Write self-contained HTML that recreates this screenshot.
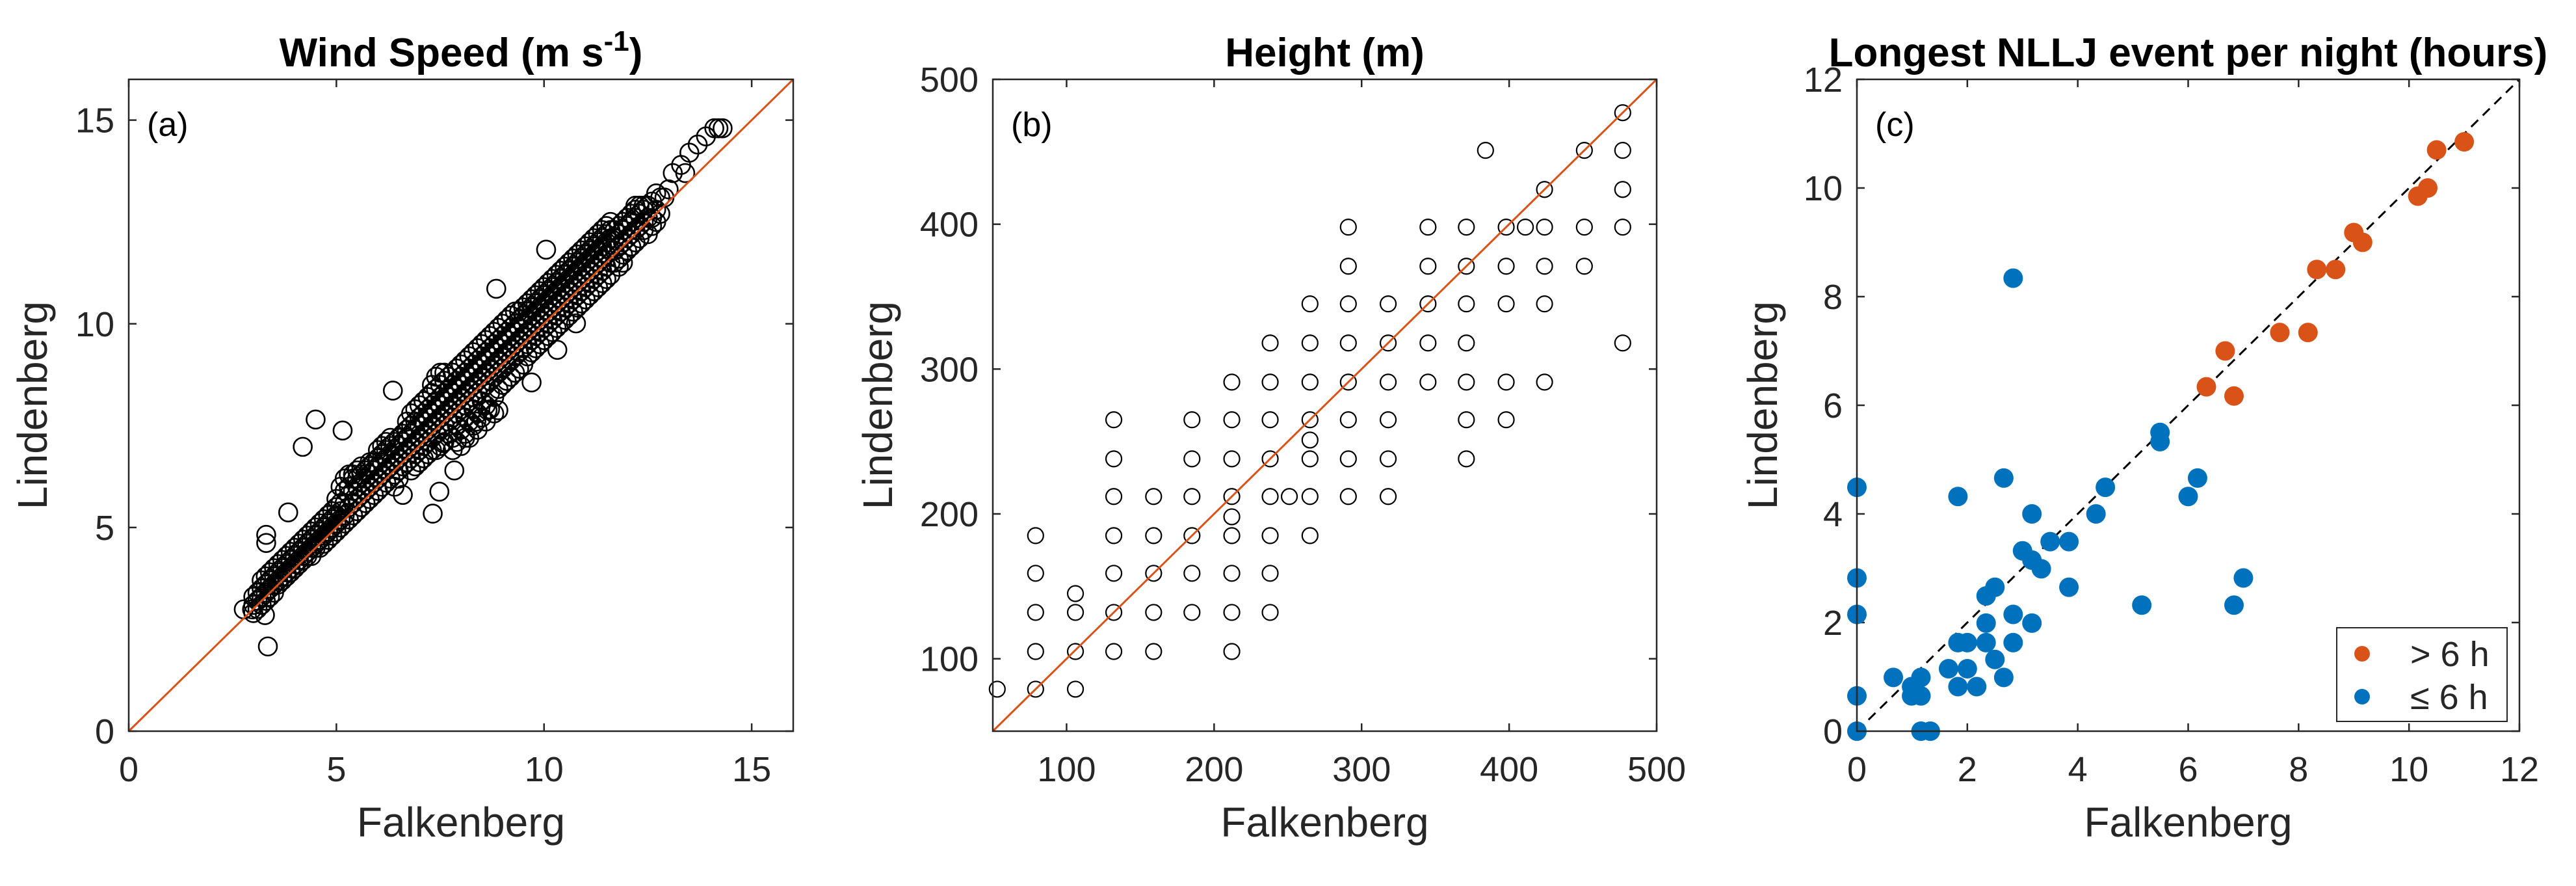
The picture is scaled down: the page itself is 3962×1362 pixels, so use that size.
<!DOCTYPE html>
<html><head><meta charset="utf-8">
<style>
html,body{margin:0;padding:0;background:#fff;}
svg{display:block;font-family:"Liberation Sans",Arial,sans-serif;}
.tick{font-size:54px;fill:#262626;}
.alab{font-size:64px;fill:#262626;}
.ttl{font-size:62px;font-weight:bold;fill:#000;}
.pl{font-size:52px;fill:#000;}
</style></head>
<body>
<svg id="fig" width="3962" height="1362" viewBox="0 0 3962 1362" xmlns="http://www.w3.org/2000/svg">
<g id="root"></g>
</svg>
<script>
// ---- Panel (a) data: wind speed (columns of Falkenberg value -> Lindenberg values)
const windCols = [
[3.0,[3.1,3.3,2.9]],[3.2,[3.3,3.5,3.1,3.7]],[3.4,[3.5,3.7,3.3,3.9]],[3.6,[3.7,3.9,3.6,4.1]],
[3.8,[3.9,4.1,3.8,4.3]],[4.0,[4.1,4.3,4.0,4.5]],[4.2,[4.3,4.5,4.2,4.7]],[4.4,[4.5,4.7,4.3,4.9]],
[4.6,[4.7,4.9,4.5,5.1]],[4.8,[4.9,5.1,4.7,5.3]],[5.0,[5.1,5.3,4.9,5.5,5.7]],[5.2,[5.3,5.6,5.1,5.9,6.2]],
[5.4,[5.6,5.9,5.3,6.2,6.3]],[5.6,[5.8,6.1,5.5,6.3,6.5]],[5.8,[6.0,6.3,5.7,6.5,6.6]],[6.0,[6.2,6.5,5.9,6.7,6.9]],
[6.2,[6.4,6.7,6.1,6.9,7.1]],[6.4,[6.6,6.9,6.3,7.1,6.0]],[6.6,[6.8,7.1,6.5,7.3,5.8]],[6.8,[7.0,7.3,6.7,7.5,7.8,6.4]],
[7.0,[7.2,7.5,6.9,7.7,8.0,6.6]],[7.2,[7.4,7.7,7.1,7.9,8.2,6.8]],[7.4,[7.6,7.9,7.3,8.1,8.4,6.9,8.7]],
[7.6,[7.8,8.1,7.5,8.3,8.6,7.1,8.8]],[7.8,[8.0,8.3,7.7,8.5,8.8,7.2,6.9]],[8.0,[8.2,8.5,7.9,8.7,9.0,7.4,7.0]],
[8.2,[8.4,8.7,8.1,8.9,9.2,7.6,7.2]],[8.4,[8.6,8.9,8.3,9.1,9.4,7.8,7.4]],[8.6,[8.8,9.1,8.5,9.3,9.6,8.0,7.6]],
[8.8,[9.0,9.3,8.7,9.5,9.8,8.2,7.8]],[9.0,[9.2,9.5,8.9,9.7,10.0,8.5]],[9.2,[9.4,9.7,9.1,9.9,10.2,8.7]],
[9.4,[9.6,9.9,9.3,10.1,10.3,8.9]],[9.6,[9.8,10.1,9.5,10.3,10.5,9.2]],[9.8,[10.0,10.3,9.7,10.5,10.7,9.4]],
[10.0,[10.2,10.5,9.9,10.7,10.9,9.6]],[10.2,[10.4,10.7,10.1,10.9,11.1,9.8]],[10.4,[10.6,10.9,10.3,11.1,11.3,10.0]],
[10.6,[10.8,11.1,10.5,11.3,11.5,10.2]],[10.8,[11.0,11.3,10.7,11.5,11.7,10.4]],[11.0,[11.2,11.5,10.9,11.7,11.9,10.6]],
[11.2,[11.4,11.7,11.1,11.9,12.1,10.8]],[11.4,[11.6,11.9,11.3,12.1,12.3,11.0]],[11.6,[11.8,12.1,11.5,12.3,12.5,11.2]],
[11.8,[11.9,12.2,11.6,12.4,11.4]],[12.0,[12.1,12.4,11.8,12.6]],[12.2,[12.3,12.6,12.0,12.8,12.9]],
[12.4,[12.5,12.8,12.3,12.9]],[12.6,[12.6,12.4,13.0]],[12.8,[12.7,13.1]],[13.0,[13.3]]
];
const windCols2 = [
[3.1,[3.2,3.4,3.0]],[3.3,[3.4,3.6,3.2,3.8]],[3.5,[3.6,3.8,3.4,4.0]],[3.7,[3.8,4.0,3.7,4.2]],
[3.9,[4.0,4.2,3.9,4.4]],[4.1,[4.2,4.4,4.1,4.6]],[4.3,[4.4,4.6,4.3,4.8]],[4.5,[4.6,4.8,4.5,5.0]],
[4.7,[4.8,5.0,4.6,5.2]],[4.9,[5.0,5.2,4.8,5.4]],[5.1,[5.2,5.4,5.0,5.6,6.0]],[5.3,[5.5,5.8,5.2,6.0,6.3]],
[5.5,[5.7,6.0,5.4,6.2,6.4]],[5.7,[5.9,6.2,5.6,6.4]],[5.9,[6.1,6.4,5.8,6.6]],[6.1,[6.3,6.6,6.0,6.8,7.0]],
[6.3,[6.5,6.8,6.2,7.0,7.2]],[6.5,[6.7,7.0,6.4,7.2,6.2]],[6.7,[6.9,7.2,6.6,7.4,7.6]],[6.9,[7.1,7.4,6.8,7.6,7.9,6.5]],
[7.1,[7.3,7.6,7.0,7.8,8.1,6.7]],[7.3,[7.5,7.8,7.2,8.0,8.3,6.9,8.5]],[7.5,[7.7,8.0,7.4,8.2,8.5,7.0,8.8]],
[7.7,[7.9,8.2,7.6,8.4,8.7,7.3]],[7.9,[8.1,8.4,7.8,8.6,8.9,7.5,7.1]],[8.1,[8.3,8.6,8.0,8.8,9.1,7.7,7.3]],
[8.3,[8.5,8.8,8.2,9.0,9.3,7.9,7.5]],[8.5,[8.7,9.0,8.4,9.2,9.5,8.1,7.7]],[8.7,[8.9,9.2,8.6,9.4,9.7,8.3,7.9]],
[8.9,[9.1,9.4,8.8,9.6,9.9,8.4]],[9.1,[9.3,9.6,9.0,9.8,10.1,8.6]],[9.3,[9.5,9.8,9.2,10.0,10.3,8.8]],
[9.5,[9.7,10.0,9.4,10.2,10.4,9.0]],[9.7,[9.9,10.2,9.6,10.4,10.6,9.3]],[9.9,[10.1,10.4,9.8,10.6,10.8,9.5]],
[10.1,[10.3,10.6,10.0,10.8,11.0,9.7]],[10.3,[10.5,10.8,10.2,11.0,11.2,9.9]],[10.5,[10.7,11.0,10.4,11.2,11.4,10.1]],
[10.7,[10.9,11.2,10.6,11.4,11.6,10.3]],[10.9,[11.1,11.4,10.8,11.6,11.8,10.5]],[11.1,[11.3,11.6,11.0,11.8,12.0,10.7]],
[11.3,[11.5,11.8,11.2,12.0,12.2,10.9]],[11.5,[11.7,12.0,11.4,12.2,12.4,11.1]],[11.7,[11.8,12.1,11.5,12.3]],
[11.9,[12.0,12.3,11.7,12.5,11.5]],[12.1,[12.2,12.5,11.9,12.7]],[12.3,[12.4,12.7,12.1,12.9]],
[12.5,[12.6,12.9,12.2]],[12.7,[12.8,12.5,13.2]]
];
const windOutliersF = [6.36,4.5,4.19,5.15,3.84,3.35,7.32,7.48,7.84,8.85,10.05,9.7,10.32,10.77,3.31,3.31,2.97,2.77,3.28,14.1,14.2,14.3,13.9,13.7,13.5,13.3,13.1,13.4,12.9,7.57,8.1,8.37,8.64,8.9];
const windOutliersL = [8.36,7.65,6.98,7.38,5.37,2.08,5.34,5.88,6.4,10.86,11.82,8.56,9.36,10.01,4.82,4.62,2.99,2.99,2.85,14.8,14.8,14.8,14.6,14.4,14.2,13.9,13.7,13.7,13.1,7.07,7.2,7.6,7.88,7.88];
const windTicks = [0,5,10,15];

// ---- Panel (b) data: height (columns)
const heightCols = [
[53,[79]],[79,[185,159,132,105,79]],[106,[145,132,105,79]],
[132,[265,238,212,185,159,132,105]],[159,[212,185,159,132,105]],[185,[265,238,212,185,159,132]],
[212,[291,265,238,212,198,185,159,132,105]],[238,[318,291,265,238,212,185,159,132]],[251,[212]],
[265,[345,318,291,265,251,238,212,185]],[291,[398,371,345,318,291,265,238,212]],[318,[345,318,291,265,238,212]],
[345,[398,371,345,318,291]],[371,[398,371,345,318,291,265,238]],[384,[451]],[398,[398,371,345,291,265]],
[411,[398]],[424,[424,398,371,345,291]],[451,[451,398,371]],[477,[477,451,424,398,318]]
];
const heightTicks = [100,200,300,400,500];

// ---- Panel (c) data: longest NLLJ event
const longF = [6.33,6.67,6.83,7.66,8.17,8.33,8.67,9.0,9.16,10.16,10.34,10.5,11.0];
const longL = [6.34,7.0,6.17,7.34,7.34,8.5,8.5,9.18,9.0,9.85,10.0,10.7,10.85];
const shortF = [0,0,0,0,0,0.66,0.99,1.16,1.16,0.99,1.16,1.33,1.66,1.83,1.83,1.83,2.0,2.0,2.17,2.34,2.34,2.34,2.5,2.5,2.66,2.66,2.83,2.83,2.83,3.0,3.17,3.17,3.17,3.34,3.5,3.84,3.84,4.33,4.5,5.16,5.49,5.49,6.0,6.17,6.83,7.0];
const shortL = [4.49,2.82,2.15,0.65,0,0.99,0.82,0.99,0.65,0.65,0,0,1.15,1.63,0.82,4.32,1.63,1.15,0.82,2.49,1.99,1.63,2.65,1.32,4.66,0.99,8.34,2.15,1.63,3.32,3.15,4.0,1.99,2.99,3.49,3.49,2.65,4.0,4.49,2.32,5.5,5.33,4.32,4.66,2.32,2.82];
const nightTicks = [0,2,4,6,8,10,12];

const NS = "http://www.w3.org/2000/svg";
const root = document.getElementById('root');
function mk(tag, attrs, parent){
  const e = document.createElementNS(NS, tag);
  for (const k in attrs) e.setAttribute(k, attrs[k]);
  (parent||root).appendChild(e);
  return e;
}
const TOP = 122, BOT = 1124;
function scale(d0,d1,r0,r1){ return v => r0 + (v-d0)/(d1-d0)*(r1-r0); }

function axes(name, L, R, dmin, dmax, ticks, title, tag, labX){
  const g = mk('g', {});
  
  
  const sx = scale(dmin,dmax,L,R), sy = scale(dmin,dmax,BOT,TOP);
  ticks.forEach(t => {
    const x = sx(t), y = sy(t);
    mk('line',{x1:x,y1:BOT,x2:x,y2:BOT-12,stroke:'#262626','stroke-width':2.5},g);
    mk('line',{x1:x,y1:TOP,x2:x,y2:TOP+12,stroke:'#262626','stroke-width':2.5},g);
    mk('line',{x1:L,y1:y,x2:L+12,y2:y,stroke:'#262626','stroke-width':2.5},g);
    mk('line',{x1:R,y1:y,x2:R-12,y2:y,stroke:'#262626','stroke-width':2.5},g);
    const xt = mk('text',{x:x,y:1201,'text-anchor':'middle',class:'tick'},g);
    xt.textContent = t;
    
    
    const yt = mk('text',{x:L-22,y:y+19,'text-anchor':'end',class:'tick'},g);
    yt.textContent = t;
    
    
  });
  const xl = mk('text',{x:(L+R)/2,y:1286,'text-anchor':'middle',class:'alab'},g);
  xl.textContent = 'Falkenberg';
  
  
  const yl = mk('text',{x:0,y:0,'text-anchor':'middle',class:'alab',transform:`translate(${labX},${(TOP+BOT)/2}) rotate(-90)`},g);
  yl.textContent = 'Lindenberg';
  
  
  const tt = mk('text',{x:(L+R)/2,y:102,'text-anchor':'middle',class:'ttl'},g);
  tt.innerHTML = title;
  
  
  const pl = mk('text',{x:L+28,y:209,class:'pl'},g);
  pl.textContent = tag;
  
  
  return {g, sx, sy, L, R};
}
function box(a){
  const b = mk('rect',{x:a.L,y:TOP,width:a.R-a.L,height:BOT-TOP,fill:'none',stroke:'#262626','stroke-width':2.5},a.g);
  
  
}

// Panel a
const A = axes('wind-speed-panel',198,1220,0,16,windTicks,'Wind Speed (m s<tspan dy="-24" font-size="44">-1</tspan><tspan dy="24">)</tspan>','(a)',72);
const ptsA = mk('g',{fill:'none',stroke:'#000','stroke-width':2.6},A.g);


windCols.concat(windCols2).forEach(c => c[1].forEach(v => {
  const p = mk('circle',{cx:A.sx(c[0]),cy:A.sy(v),r:14},ptsA);
  
  
}));
windOutliersF.forEach((f,i) => {
  const p = mk('circle',{cx:A.sx(f),cy:A.sy(windOutliersL[i]),r:14},ptsA);
  
  
});
const la = mk('line',{x1:A.sx(0),y1:A.sy(0),x2:A.sx(16),y2:A.sy(16),stroke:'#D95319','stroke-width':3},A.g);


box(A);

// Panel b
const B = axes('height-panel',1527,2548,50,500,heightTicks,'Height (m)','(b)',1372);
const ptsB = mk('g',{fill:'none',stroke:'#000','stroke-width':2.2},B.g);


heightCols.forEach(c => c[1].forEach(v => {
  const p = mk('circle',{cx:B.sx(c[0]),cy:B.sy(v),r:12},ptsB);
  
  
}));
const lb = mk('line',{x1:B.sx(50),y1:B.sy(50),x2:B.sx(500),y2:B.sy(500),stroke:'#D95319','stroke-width':3},B.g);


box(B);

// Panel c
const C = axes('nllj-duration-panel',2856,3875,0,12,nightTicks,'Longest NLLJ event per night (hours)','(c)',2733);
const lc = mk('line',{x1:C.sx(0),y1:C.sy(0),x2:C.sx(12),y2:C.sy(12),stroke:'#000','stroke-width':3,'stroke-dasharray':'15 10'},C.g);


const ptsS = mk('g',{fill:'#0072BD'},C.g);


shortF.forEach((f,i) => {
  const p = mk('circle',{cx:C.sx(f),cy:C.sy(shortL[i]),r:15},ptsS);
  
  
});
const ptsL = mk('g',{fill:'#D95319'},C.g);


longF.forEach((f,i) => {
  const p = mk('circle',{cx:C.sx(f),cy:C.sy(longL[i]),r:15},ptsL);
  
  
});
box(C);
// legend
const lg = mk('g',{},C.g);


mk('rect',{x:3594,y:965,width:262,height:144,fill:'#fff',stroke:'#262626','stroke-width':2},lg);
mk('circle',{cx:3633,cy:1005,r:12,fill:'#D95319'},lg);
mk('circle',{cx:3633,cy:1071,r:12,fill:'#0072BD'},lg);
const t1 = mk('text',{x:3707,y:1024,class:'tick',fill:'#000'},lg);
t1.textContent = '> 6 h';


const t2 = mk('text',{x:3707,y:1090,class:'tick',fill:'#000'},lg);
t2.textContent = '≤ 6 h';


</script>
</body></html>
